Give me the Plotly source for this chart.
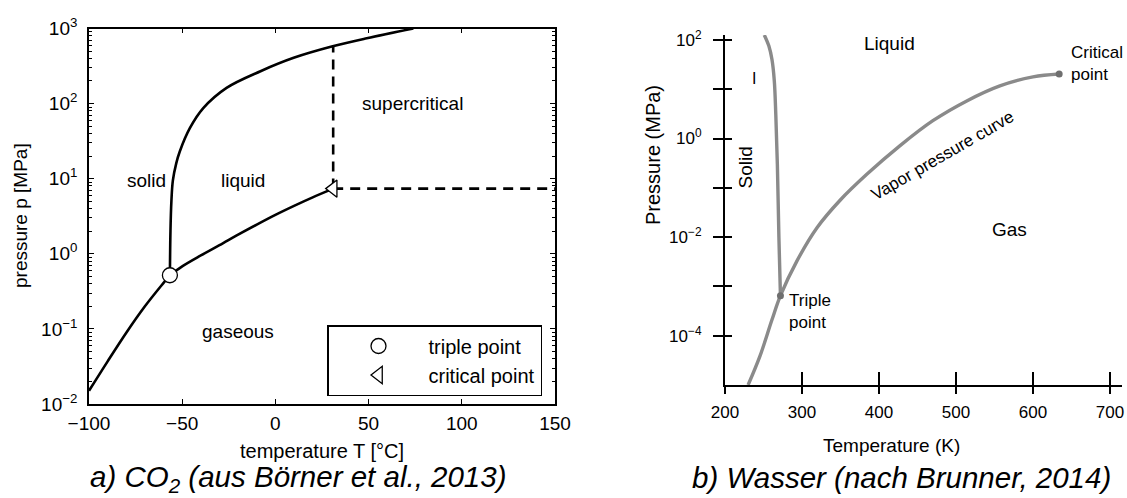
import numpy as np
import plotly.graph_objects as go

W, H = 1127, 498
FONT = "Liberation Sans, Arial, sans-serif"

# ---------------- CO2 (temperature in °C, pressure in MPa) ----------------
co2_sub_T = [-100, -90, -80, -70, -60, -56.6]
co2_sub_p = [0.0150, 0.037, 0.089, 0.20, 0.41, 0.518]

co2_vap_T = [-56.6, -50, -40, -30, -20, -10, 0, 10, 20, 31.0]
co2_vap_p = [0.518, 0.68, 0.95, 1.30, 1.80, 2.45, 3.30, 4.35, 5.65, 7.38]

co2_melt_T = [-56.6, -56.3, -55.8, -55.0, -53.2, -51.3, -45.9, -38.7, -26.2, -8.0, 9.8, 30.2, 49.0, 74.0]
co2_melt_p = [0.518, 2.0, 5.0, 9.5, 16, 23, 47, 87, 162, 270, 407, 575, 741, 1000]

co2_triple_T, co2_triple_p = -56.6, 0.518
co2_crit_T, co2_crit_p = 31.0, 7.38

co2_xticks = [-100, -50, 0, 50, 100, 150]
co2_yexp = [-2, -1, 0, 1, 2, 3]

# ---------------- Water (temperature in K, pressure in MPa) ----------------
h2o_vap_T = [230, 245.5, 261, 272, 293.5, 319.5, 349.5, 384.5, 427, 470, 514, 557, 600, 634]
h2o_vap_p = [1.0e-5, 3.9e-5, 2.1e-4, 6.5e-4, 3.3e-3, 0.0155, 0.056, 0.19, 0.71, 2.3, 5.8, 11.7, 17.8, 20.4]

h2o_melt_T = [272, 270, 268, 266, 264, 261, 257, 251]
h2o_melt_p = [6.5e-4, 0.01, 0.3, 3.0, 15, 40, 75, 126]

h2o_triple_T, h2o_triple_p = 272, 6.5e-4
h2o_crit_T, h2o_crit_p = 634, 20.4

h2o_xticks = [200, 300, 400, 500, 600, 700]
h2o_yexp = [-4, -3, -2, -1, 0, 1, 2]


def sup(e):
    s = str(abs(e))
    return "10<sup>" + ("\u2212" if e < 0 else "") + s + "</sup>"


fig = go.Figure()

# ---- left panel: CO2 ----
black_line = dict(color="black", width=2.6)
fig.add_trace(go.Scatter(x=co2_sub_T, y=co2_sub_p, mode="lines", line=dict(black_line, shape="spline"),
                         showlegend=False, xaxis="x", yaxis="y"))
fig.add_trace(go.Scatter(x=co2_vap_T, y=co2_vap_p, mode="lines", line=dict(black_line, shape="spline"),
                         showlegend=False, xaxis="x", yaxis="y"))
fig.add_trace(go.Scatter(x=co2_melt_T, y=co2_melt_p, mode="lines", line=dict(black_line, shape="spline"),
                         showlegend=False, xaxis="x", yaxis="y"))

# supercritical boundaries (dashed) starting at the critical point
top_p = 10 ** np.interp(co2_crit_T, co2_melt_T, np.log10(co2_melt_p))
dash = dict(color="black", width=2.6, dash="10px,7px")
fig.add_trace(go.Scatter(x=[co2_crit_T, co2_crit_T], y=[co2_crit_p, top_p], mode="lines", line=dash,
                         showlegend=False, xaxis="x", yaxis="y"))
fig.add_trace(go.Scatter(x=[co2_crit_T, co2_xticks[-1]], y=[co2_crit_p, co2_crit_p], mode="lines", line=dash,
                         showlegend=False, xaxis="x", yaxis="y"))

fig.add_trace(go.Scatter(x=[co2_triple_T], y=[co2_triple_p], mode="markers", name="triple point",
                         marker=dict(symbol="circle", size=15, color="white", line=dict(color="black", width=1.3)),
                         xaxis="x", yaxis="y"))
fig.add_trace(go.Scatter(x=[co2_crit_T], y=[co2_crit_p], mode="markers", name="critical point",
                         marker=dict(symbol="triangle-left", size=15, color="white",
                                     line=dict(color="black", width=1.3)),
                         xaxis="x", yaxis="y"))

# ---- right panel: water ----
gray = "#8a8a8a"
fig.add_trace(go.Scatter(x=h2o_vap_T, y=h2o_vap_p, mode="lines", line=dict(color=gray, width=3.4, shape="spline"),
                         showlegend=False, xaxis="x2", yaxis="y2"))
fig.add_trace(go.Scatter(x=h2o_melt_T, y=h2o_melt_p, mode="lines", line=dict(color=gray, width=3.4, shape="spline"),
                         showlegend=False, xaxis="x2", yaxis="y2"))
fig.add_trace(go.Scatter(x=[h2o_triple_T, h2o_crit_T], y=[h2o_triple_p, h2o_crit_p], mode="markers",
                         marker=dict(size=7, color="#6f6f6f"), showlegend=False, xaxis="x2", yaxis="y2"))

# ---- axes ----
Lx0, Lx1, Ly0, Ly1 = 89, 555, 28.5, 404
Rx0, Rx1, Ry0, Ry1 = 725, 1122, 35, 385


def xd(a, b):
    return [a / W, b / W]


def yd(top, bottom):
    return [1 - bottom / H, 1 - top / H]


minor_vals = [k * 10.0 ** e for e in range(-2, 3) for k in range(2, 10)]

fig.update_layout(
    width=W, height=H,
    margin=dict(l=0, r=0, t=0, b=0, autoexpand=False),
    paper_bgcolor="white", plot_bgcolor="white",
    font=dict(family=FONT, color="black", size=19),
    xaxis=dict(domain=xd(Lx0, Lx1), range=[-100, 150], anchor="y", automargin=False,
               tickmode="array", tickvals=co2_xticks,
               ticks="inside", ticklen=5, tickwidth=1.3, tickcolor="black",
               showline=True, linewidth=1.6, linecolor="black", mirror="ticks",
               showgrid=False, zeroline=False, tickfont=dict(size=19), ticklabelstandoff=1),
    yaxis=dict(domain=yd(Ly0, Ly1), type="log", range=[-2, 3], anchor="x", automargin=False,
               tickmode="array", tickvals=[10.0 ** e for e in co2_yexp], ticktext=[sup(e) for e in co2_yexp],
               ticks="inside", ticklen=5, tickwidth=1.3, tickcolor="black",
               minor=dict(tickmode="array", tickvals=minor_vals, ticks="inside", ticklen=3,
                          tickwidth=1, tickcolor="black", showgrid=False),
               showline=True, linewidth=1.6, linecolor="black", mirror="ticks",
               showgrid=False, zeroline=False, tickfont=dict(size=19), ticklabelstandoff=6),
    xaxis2=dict(domain=xd(Rx0, Rx1), range=[200, 715.6], anchor="y2", automargin=False,
                tickmode="array", tickvals=h2o_xticks, ticktext=[str(v) for v in h2o_xticks],
                ticks="outside", ticklen=7, tickwidth=2, tickcolor="black",
                showline=True, linewidth=2, linecolor="black",
                showgrid=False, zeroline=False, tickfont=dict(size=17), ticklabelstandoff=4),
    yaxis2=dict(domain=yd(Ry0, Ry1), type="log", range=[-5, 2.1], anchor="x2", automargin=False,
                tickmode="array", tickvals=[10.0 ** e for e in h2o_yexp],
                ticktext=[sup(e) if e % 2 == 0 else "" for e in h2o_yexp],
                ticks="outside", ticklen=10, tickwidth=2, tickcolor="black",
                showline=True, linewidth=2, linecolor="black",
                showgrid=False, zeroline=False, tickfont=dict(size=17), ticklabelstandoff=8),
    # inner halves of the crossing tick marks on the water panel
    xaxis3=dict(overlaying="x2", anchor="y2", range=[200, 715.6], tickmode="array", tickvals=h2o_xticks[1:],
                ticks="inside", ticklen=13, tickwidth=2, tickcolor="black", showticklabels=False,
                showline=False, showgrid=False, zeroline=False, automargin=False),
    yaxis3=dict(overlaying="y2", anchor="x2", type="log", range=[-5, 2.1], side="left",
                tickmode="array", tickvals=[10.0 ** e for e in h2o_yexp],
                ticks="inside", ticklen=7, tickwidth=2, tickcolor="black", showticklabels=False,
                showline=False, showgrid=False, zeroline=False, automargin=False),
    legend=dict(x=542 / W, xanchor="right", y=1 - 396 / H, yanchor="bottom",
                bgcolor="white", bordercolor="black", borderwidth=1.5,
                font=dict(size=20, family=FONT), itemwidth=90, tracegroupgap=0),
    showlegend=True,
)

# keep the overlay axes alive with an empty trace
fig.add_trace(go.Scatter(x=[None], y=[None], xaxis="x3", yaxis="y3", showlegend=False, hoverinfo="skip"))

# ---- annotations ----
ann = []


def text(x, y, s, xref, yref, size=19, xanchor="center", yanchor="middle", **kw):
    ann.append(dict(x=x, y=y, text=s, xref=xref, yref=yref, showarrow=False,
                    xanchor=xanchor, yanchor=yanchor,
                    font=dict(size=size, family=FONT, color="black"), **kw))


# CO2 region labels (y in log10 units)
text(-68.9, 0.97, "solid", "x", "y")
text(-17.4, 0.97, "liquid", "x", "y")
text(73.8, 2.0, "supercritical", "x", "y")
text(-20, -1.03, "gaseous", "x", "y")

# water region labels
text(413, 1.92, "Liquid", "x2", "y2", size=19)
text(237.7, 1.21, "I", "x2", "y2", size=16)
text(227, -0.59, "Solid", "x2", "y2", size=19, textangle=-90)
text(483, -0.35, "Vapor pressure curve", "x2", "y2", size=17, textangle=-30)
text(570, -1.85, "Gas", "x2", "y2", size=19)
text(647, 1.53, "Critical<br>point", "x2", "y2", size=17, xanchor="left", align="left")
text(280.5, -3.50, "Triple<br>point", "x2", "y2", size=17, xanchor="left", align="left")

# axis titles
text(322 / W, 1 - 451 / H, "temperature T [°C]", "paper", "paper", size=20)
text(20 / W, 1 - 216 / H, "pressure p [MPa]", "paper", "paper", size=19, textangle=-90)
text(891 / W, 1 - 445 / H, "Temperature (K)", "paper", "paper", size=19)
text(653 / W, 1 - 155 / H, "Pressure (MPa)", "paper", "paper", size=20, textangle=-90)

# captions
text(298 / W, 1 - 478 / H, "<i>a) CO<sub>2</sub> (aus Börner et al., 2013)</i>", "paper", "paper", size=29.5)
text(901 / W, 1 - 477 / H, "<i>b) Wasser (nach Brunner, 2014)</i>", "paper", "paper", size=29.5)

fig.update_layout(annotations=ann)

fig.write_html("out.html")
